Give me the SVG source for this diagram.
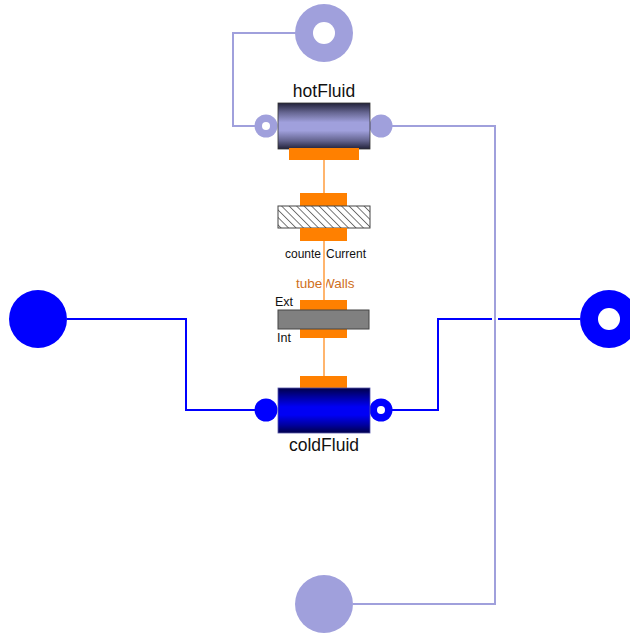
<svg xmlns="http://www.w3.org/2000/svg" width="630" height="637" viewBox="0 0 630 637">
<style>
text{font-family:"Liberation Sans",Arial,sans-serif;fill:#111}
.hl{fill:none;stroke:#a0a0dc;stroke-width:2}
.cl{fill:none;stroke:#0000ff;stroke-width:2}
.hf{fill:#a0a0dc}.cf{fill:#0000ff}.w{fill:#fff}
.o{fill:#ff8000}
.hw{fill:none;stroke:#ffb56e;stroke-width:2}
.lab{font-size:17.5px;text-anchor:middle}
.sm{font-size:12.5px}
</style>
<defs>
<linearGradient id="gh" x1="0" y1="0" x2="0" y2="1"><stop offset="0" stop-color="#22223a"/><stop offset=".2" stop-color="#64648f"/><stop offset=".42" stop-color="#a0a0dc"/><stop offset=".6" stop-color="#a0a0dc"/><stop offset=".82" stop-color="#64648f"/><stop offset="1" stop-color="#22223a"/></linearGradient>
<linearGradient id="gc" x1="0" y1="0" x2="0" y2="1"><stop offset="0" stop-color="#00004a"/><stop offset=".2" stop-color="#0000a0"/><stop offset=".42" stop-color="#0000f5"/><stop offset=".6" stop-color="#0000f5"/><stop offset=".82" stop-color="#0000a0"/><stop offset="1" stop-color="#00004a"/></linearGradient>
<pattern id="hatch" width="5.3" height="5.3" patternUnits="userSpaceOnUse" patternTransform="rotate(-45)"><rect width="5.3" height="5.3" fill="#fff"/><line x1="0" y1="0" x2="0" y2="5.3" stroke="#333" stroke-width="1.3"/></pattern>
</defs>
<rect width="630" height="637" fill="#fff"/>
<g id="counterCurrent">
<rect class="o" x="300" y="193" width="47" height="13"/>
<rect x="278" y="206" width="92" height="22" fill="url(#hatch)" stroke="#444" stroke-width="1"/>
<rect class="o" x="300" y="228" width="47" height="13"/>
<text x="285" y="258" font-size="12">counte</text>
<text x="326" y="258" font-size="12">Current</text>
</g>
<g id="tubeWalls">
<text x="296" y="288" font-size="13.5" style="fill:#cf6f1c">tube</text>
<text x="322" y="288" font-size="13.5" style="fill:#cf6f1c">Walls</text>
<text class="sm" x="275" y="306">Ext</text>
<text class="sm" x="277" y="342">Int</text>
<rect class="o" x="300" y="300" width="47" height="10"/>
<rect class="o" x="300" y="329" width="47" height="9"/>
<rect x="278" y="310" width="91" height="19" fill="#808080" stroke="#444" stroke-width="1"/>
</g>
<g id="connectors">
<path d="M324 275V292" fill="none" stroke="#fff" stroke-width="4"/>
<path class="hw" d="M324 160V193M324 241V300M324 338V376"/>
<path class="hl" d="M296 33H233V126H255"/>
<path class="hl" d="M392 126H495V604H353"/>
<path class="cl" d="M67 319H186V410H255"/>
<path class="cl" d="M392 410H438V319H492M498 319H580"/>
</g>
<g id="hotIn"><circle class="hf" cx="324" cy="33" r="29"/><circle class="w" cx="324" cy="33" r="11"/></g>
<g id="hotOut"><circle class="hf" cx="324" cy="604" r="29"/></g>
<g id="coldIn"><circle class="cf" cx="38" cy="319" r="29"/></g>
<g id="coldOut"><circle class="cf" cx="609" cy="319" r="29"/><circle class="w" cx="609" cy="319" r="11"/></g>
<g id="hotFluid">
<text class="lab" x="324" y="97">hotFluid</text>
<circle class="hf" cx="266" cy="126" r="11.5"/><circle class="w" cx="266" cy="126" r="4"/>
<circle class="hf" cx="381" cy="126" r="11.5"/>
<rect x="278" y="103" width="92" height="46" fill="url(#gh)" stroke="#333" stroke-width=".8"/>
<rect class="o" x="289" y="148" width="70" height="12"/>
</g>
<g id="coldFluid">
<rect class="o" x="300" y="376" width="47" height="12"/>
<circle class="cf" cx="266" cy="410" r="11.5"/>
<circle class="cf" cx="381" cy="410" r="11.5"/><circle class="w" cx="381" cy="410" r="4"/>
<rect x="278" y="388" width="92" height="45" fill="url(#gc)" stroke="#5555aa" stroke-width=".8"/>
<text class="lab" x="324" y="451">coldFluid</text>
</g>
</svg>
